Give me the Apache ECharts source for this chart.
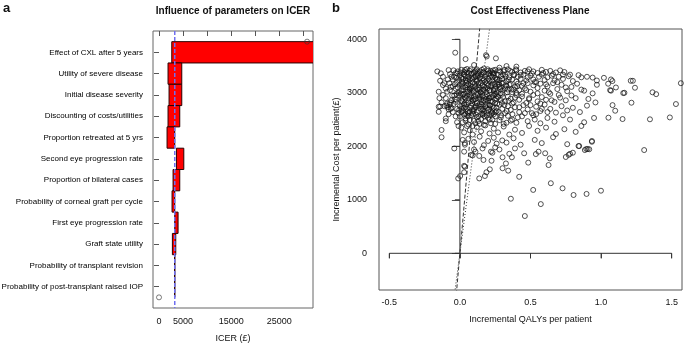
<!DOCTYPE html>
<html><head><meta charset="utf-8">
<script src="https://cdn.jsdelivr.net/npm/echarts@6/dist/echarts.min.js"></script>
<style>html,body{margin:0;padding:0;background:#fff}#c{width:685px;height:351px}</style>
</head><body><div id="c"></div>
<script>
// ---- Panel a: tornado diagram ----
const params = [
  'Effect of CXL after 5 years',
  'Utility of severe disease',
  'Initial disease severity',
  'Discounting of costs/utilities',
  'Proportion retreated at 5 yrs',
  'Second eye progression rate',
  'Proportion of bilateral cases',
  'Probability of corneal graft per cycle',
  'First eye progression rate',
  'Graft state utility',
  'Probability of transplant revision',
  'Probability of post-transplant raised IOP'
];
const lowValues  = [2650, 1875, 2085, 1875, 1670, 3620, 2920, 2710, 3270, 2780, 3240, 3250];
const highValues = [45000, 4730, 4730, 4310, 3270, 5150, 4310, 3270, 3960, 3480, 3300, 3290];
const baseICER = 3270;
const icerTicks = [0, 5000, 10000, 15000, 20000, 25000, 30000];
const icerLabels = [0, 5000, 15000, 25000];
const rangePoints = [[0, 12.5], [30770, 0.5]];

// ---- Panel b: cost-effectiveness plane ----
const qalyTicks = [-0.5, 0, 0.5, 1, 1.5];
const costTicks = [0, 1000, 2000, 3000, 4000];
const wtpThresholds = [20000, 30000];
const psaPoints = [
[-0.16,3400],[-0.135,3365],[-0.08,3425],[-0.14,3225],[-0.12,3145],[-0.11,3180],[-0.075,3180],[-0.15,3020],[-0.145,2900],[-0.12,2960],
[-0.10,2900],[-0.15,2740],[-0.14,2745],[-0.15,2645],[-0.10,2520],[-0.10,2470],[-0.13,2305],[-0.13,2170],[-0.04,1960],[-0.033,3750],
[-0.09,3020],[-0.07,2780],[-0.06,2720],[-0.08,2690],[-0.05,2640],[-0.06,2860],[-0.04,2950],[-0.03,3080],[-0.05,3120],[-0.02,3200],
[-0.04,3300],[-0.02,3360],[-0.06,3300],[-0.09,2800],[-0.11,2750],[-0.03,2560],[-0.02,2450],[-0.01,2380],[-0.03,2830],[-0.01,3000],
[-0.07,3050],[-0.02,2700],[-0.045,3420],[-0.01,2620],[-0.08,2600],[-0.095,2760],[-0.07,2820],[-0.085,2730],[-0.065,2700],
[0.01,3430],[0.03,3390],[0.05,3445],[0.07,3410],[0.10,3380],[0.12,3440],[0.14,3400],[0.17,3455],[0.20,3410],[0.23,3380],
[0.25,3430],[0.28,3470],[0.31,3400],[0.34,3440],[0.37,3390],[0.40,3420],[0.43,3380],[0.46,3410],[0.49,3440],[0.52,3400],
[0.55,3370],[0.58,3430],[0.61,3390],[0.64,3410],[0.68,3380],[0.71,3420],[0.74,3390],[0.78,3340],[0.84,3330],[0.90,3300],
[0.04,3630],[0.185,3705],[0.19,3680],[0.255,3645],[0.40,3490],[0.10,3520],[0.33,3500],
[0.00,3320],[0.02,3260],[0.03,3340],[0.05,3220],[0.06,3300],[0.08,3350],[0.09,3250],[0.11,3310],[0.12,3210],[0.14,3280],
[0.15,3340],[0.17,3240],[0.18,3300],[0.20,3350],[0.21,3220],[0.23,3290],[0.24,3330],[0.26,3250],[0.27,3200],[0.29,3310],
[0.30,3260],[0.32,3340],[0.33,3220],[0.35,3290],[0.37,3250],[0.38,3330],[0.40,3210],[0.41,3300],[0.43,3260],[0.45,3340],
[0.47,3230],[0.48,3290],[0.50,3320],[0.52,3250],[0.54,3200],[0.56,3300],[0.58,3340],[0.60,3240],[0.62,3290],[0.65,3320],
[0.67,3230],[0.70,3300],[0.73,3260],[0.77,3310],[0.80,3220],[0.86,3290],[0.94,3285],[0.97,3230],[1.02,3280],[1.07,3250],
[1.08,3220],[1.21,3225],[1.225,3225],[1.565,3180],
[0.01,3280],[0.04,3310],[0.07,3240],[0.10,3290],[0.13,3330],[0.16,3270],[0.19,3230],[0.22,3320],[0.25,3280],[0.28,3240],
[0.00,3150],[0.01,3050],[0.02,3180],[0.04,3100],[0.05,3020],[0.06,3160],[0.08,3080],[0.09,3190],[0.10,3030],[0.11,3120],
[0.13,3170],[0.14,3060],[0.15,3010],[0.16,3140],[0.18,3090],[0.19,3180],[0.21,3040],[0.22,3120],[0.23,3170],[0.25,3070],
[0.26,3010],[0.27,3150],[0.29,3100],[0.30,3040],[0.31,3190],[0.33,3120],[0.34,3060],[0.36,3160],[0.37,3010],[0.39,3110],
[0.41,3170],[0.42,3050],[0.44,3130],[0.46,3080],[0.48,3180],[0.50,3020],[0.52,3140],[0.55,3090],[0.57,3170],[0.60,3040],
[0.62,3120],[0.66,3180],[0.69,3070],[0.72,3150],[0.76,3030],[0.79,3110],[0.83,3170],[0.86,3060],[0.88,3040],[0.94,2990],
[1.05,3170],[1.064,3050],[1.07,3040],[1.105,3100],[1.157,2995],[1.165,3000],[1.24,3095],[1.364,3010],[1.39,2975],[0.97,3150],
[0.02,3110],[0.05,3140],[0.07,3060],[0.09,3120],[0.12,3070],[0.15,3180],[0.17,3050],[0.20,3140],[0.24,3030],[0.28,3110],
[0.32,3080],[0.35,3150],[0.38,3060],[0.40,3000],
[0.00,2950],[0.01,2850],[0.03,2980],[0.04,2900],[0.06,2820],[0.07,2960],[0.09,2870],[0.10,2930],[0.12,2810],[0.13,2990],
[0.15,2880],[0.16,2940],[0.18,2830],[0.19,2970],[0.21,2900],[0.22,2850],[0.24,2960],[0.25,2810],[0.27,2920],[0.29,2870],
[0.30,2980],[0.32,2840],[0.34,2930],[0.36,2890],[0.38,2820],[0.40,2960],[0.42,2870],[0.44,2930],[0.47,2810],[0.49,2900],
[0.52,2960],[0.55,2840],[0.58,2920],[0.61,2870],[0.64,2980],[0.67,2830],[0.71,2910],[0.75,2860],[0.79,2950],[0.82,2900],
[0.91,2885],[0.96,2820],[1.215,2815],[1.53,2790],
[0.02,2890],[0.05,2940],[0.08,2840],[0.11,2880],[0.14,2920],[0.17,2860],[0.20,2940],[0.23,2830],[0.26,2890],
[0.00,2750],[0.02,2660],[0.03,2780],[0.05,2700],[0.06,2620],[0.08,2760],[0.09,2680],[0.11,2730],[0.12,2640],[0.14,2790],
[0.15,2700],[0.17,2610],[0.18,2750],[0.20,2680],[0.21,2770],[0.23,2630],[0.24,2720],[0.26,2660],[0.28,2780],[0.30,2700],
[0.32,2620],[0.34,2750],[0.36,2680],[0.39,2730],[0.42,2640],[0.45,2770],[0.48,2690],[0.51,2620],[0.54,2740],[0.57,2660],
[0.60,2780],[0.64,2700],[0.68,2630],[0.72,2750],[0.76,2670],[0.80,2720],[0.85,2640],[0.90,2760],[1.081,2770],[1.10,2665],
[0.01,2700],[0.04,2740],[0.07,2650],[0.10,2690],[0.13,2760],[0.16,2670],[0.19,2720],[0.22,2650],
[0.00,2560],[0.02,2450],[0.04,2520],[0.06,2410],[0.08,2580],[0.10,2480],[0.12,2540],[0.14,2420],[0.16,2590],[0.18,2470],
[0.20,2530],[0.22,2430],[0.25,2560],[0.28,2490],[0.31,2420],[0.34,2570],[0.37,2500],[0.40,2440],[0.44,2560],[0.48,2470],
[0.52,2580],[0.57,2430],[0.62,2530],[0.67,2460],[0.73,2580],[0.78,2500],[0.88,2450],[0.95,2530],[1.052,2535],[1.152,2510],
[1.346,2505],[1.487,2540],
[0.03,2590],[0.07,2490],[0.11,2430],[0.15,2510],[0.19,2580],[0.23,2500],
[0.01,2350],[0.03,2260],[0.05,2380],[0.07,2300],[0.09,2220],[0.12,2360],[0.15,2280],[0.18,2390],[0.21,2240],[0.24,2330],
[0.27,2260],[0.31,2370],[0.35,2220],[0.39,2310],[0.44,2250],[0.49,2380],[0.55,2290],[0.61,2350],[0.68,2230],[0.74,2320],
[0.82,2270],[0.86,2380],[0.935,2100],[0.895,1950],[0.905,1950],
[0.02,2120],[0.035,2030],[0.035,2060],[0.06,2140],[0.10,2080],[0.14,2180],[0.17,2020],[0.20,2100],[0.24,2160],[0.26,2050],
[0.30,2110],[0.33,2070],[0.38,2150],[0.43,2030],[0.53,2120],[0.58,2060],[0.66,2170],[0.76,2040],[0.84,2005],[0.935,2085],
[-0.012,1400],[0.002,1445],[0.03,1635],[0.035,1620],[0.03,1515],[0.03,1900],[0.08,1840],[0.09,1830],[0.137,1820],[0.137,1400],
[0.177,1445],[0.188,1515],[0.212,1570],[0.167,1745],[0.224,1730],[0.22,1900],[0.23,1880],[0.302,1590],[0.342,1545],[0.326,1680],
[0.302,1795],[0.368,1795],[0.361,1020],[0.46,697],[0.42,1430],[0.484,1695],[0.455,1870],[0.519,1185],[0.538,1855],[0.557,1900],
[0.573,920],[0.604,1870],[0.628,1650],[0.637,1775],[0.644,1310],[0.727,1215],[0.75,1800],[0.77,1840],[0.78,1860],[0.80,1880],
[0.805,1090],[0.845,2005],[0.885,1930],[0.897,1110],[0.916,1945],[0.999,1170],[1.305,1930],[0.10,1940],[0.11,1900],[0.16,1960],
[0.25,1980],[0.28,1940],[0.35,1860],[0.39,1960],
[0.005,3380],[0.015,3210],[0.025,3050],[0.035,2920],[0.045,2780],[0.055,2650],[0.065,3370],[0.075,3130],[0.085,2990],[0.095,2860],
[0.105,2720],[0.115,2590],[0.125,3360],[0.135,3190],[0.145,3010],[0.155,2830],[0.165,2700],[0.175,2560],[0.185,3350],[0.195,3080],
[0.205,2900],[0.215,2760],[0.225,2610],[0.235,3360],[0.245,3160],[0.255,2980],[0.265,2800],[0.275,2640],[0.285,3390],[0.295,3180],
[0.305,2920],[0.315,2770],[0.325,3300],[0.335,3010],[0.345,2850],[-0.005,3240],[-0.015,3100],[-0.025,2980],[-0.035,2880],[-0.045,2790],
[-0.005,2680],[-0.015,3400],[-0.025,3280],[-0.035,3160],[0.008,2990],[0.018,2840],[0.028,2720],[0.038,2610],[0.048,3380],[0.058,3260],
[0.068,3090],[0.078,2930],[0.088,2800],[0.098,2660],[0.108,3400],[0.118,3230],[0.128,3060],[0.138,2890],[0.148,2740],[0.158,2610],
[0.168,3380],[0.178,3200],[0.188,3020],[0.198,2850],[0.208,2700],[0.218,3410],[0.228,3230],[0.238,3060],[0.248,2870],[0.258,2720],
[0.268,3340],[0.278,3150],[0.288,2990],[0.298,2810],[0.012,3160],[0.022,2960],[0.032,2800],[0.042,3240],[0.052,3060],[0.062,2890],
[0.072,2720],[0.082,3280],[0.092,3040],[0.102,2880],[0.112,2760],[0.122,3310],[0.132,3100],[0.142,2950],[0.152,2780],[0.162,3390],
[0.172,3120],[0.182,2930],[0.192,2780],[0.202,3260],[0.212,3050],[0.222,2920],[0.232,2750],[0.242,3370],[0.252,3120],[0.262,2940],
[0.036,3430],[0.076,3440],[0.116,3420],[0.156,3430],[0.196,3440],[0.236,3420],[0.276,3420],[0.316,3430],[0.356,3410],[0.396,3440],
[0.026,3350],[0.046,3190],[0.066,3020],[0.086,3360],[0.106,3170],[0.126,2960],[0.146,3300],[0.166,3060],[0.186,2880],[0.206,3370],
[0.226,3140],[0.246,2980],[0.266,3250],[0.286,3070],[0.306,3340],[0.326,3140],[0.346,3250],[0.366,3060],[0.386,3340],[0.406,3120],
[0.04,2480],[0.09,2380],[0.13,2470],[0.17,2400],[0.21,2500],[0.25,2420],[0.29,2540],[0.33,2440],[0.06,2560],[0.24,2600],
[0.012,2640],[0.052,2580],[0.092,2610],[0.132,2560],[0.172,2650],[0.212,2590],[0.252,2640],[0.292,2580],[0.332,2660],[0.372,2600],
[0.43,3330],[0.45,3180],[0.47,3050],[0.49,2880],[0.51,3360],[0.53,3200],[0.55,2990],[0.57,2800],[0.59,3370],[0.61,3160],
[0.63,3010],[0.65,2860],[0.42,2730],[0.46,2620],[0.50,2770],[0.54,2600],[0.58,2700],[0.62,2640],[0.66,3350],[0.69,3200],
[0.70,2960],[0.73,3340],[0.75,3100],[0.48,3400],[0.44,2980],[0.39,2910],[0.37,2800],[0.41,2540],[0.36,2480],[0.53,2500],
[-0.03,3370],[-0.05,3250],[-0.07,3350],[-0.025,2870],[-0.055,2950],[-0.065,3110],[-0.085,3250],[-0.10,3080],[-0.12,3300],[-0.13,2820]
];

const FONT = 'Liberation Sans, Arial, sans-serif';
const chart = echarts.init(document.getElementById('c'), null, {renderer: 'canvas'});

const qMin = -0.573, qMax = 1.573, cMin = -686, cMax = 4193;

function tickSeries(values, axis, gridX, gridY) {
  return {
    type: 'custom', xAxisIndex: gridX, yAxisIndex: gridY, silent: true, z: 4,
    data: values.map(v => axis === 'x' ? [v, 0] : [0, v]),
    renderItem: (p, api) => {
      const pt = api.coord([api.value(0), api.value(1)]);
      const shape = axis === 'x'
        ? {x1: pt[0], y1: pt[1], x2: pt[0], y2: pt[1] + 5}
        : {x1: pt[0], y1: pt[1], x2: pt[0] - 5, y2: pt[1]};
      return {type: 'line', shape, style: {stroke: '#333', lineWidth: 1}};
    }
  };
}

const option = {
  animation: false,
  textStyle: {fontFamily: FONT},
  graphic: [
    {type: 'text', left: 3, top: 2, style: {text: 'a', font: 'bold 13px ' + FONT, fill: '#111'}},
    {type: 'text', left: 332, top: 2, style: {text: 'b', font: 'bold 13px ' + FONT, fill: '#111'}},
    {type: 'text', x: 233, y: 11, style: {text: 'Influence of parameters on ICER', font: 'bold 10px ' + FONT, fill: '#111', align: 'center', verticalAlign: 'middle'}},
    {type: 'text', x: 530, y: 11, style: {text: 'Cost Effectiveness Plane', font: 'bold 10px ' + FONT, fill: '#111', align: 'center', verticalAlign: 'middle'}}
  ],
  grid: [
    {left: 153, top: 31, width: 160, height: 277, show: true, borderColor: '#666', borderWidth: 1,
      backgroundColor: 'transparent', containLabel: false, outerBoundsMode: 'none'},
    {left: 379, top: 29, width: 303, height: 261, show: true, borderColor: '#555', borderWidth: 1,
      backgroundColor: 'transparent', containLabel: false, outerBoundsMode: 'none'}
  ],
  xAxis: [
    {
      type: 'value', gridIndex: 0, min: -1250, max: 32000,
      axisLine: {show: false}, splitLine: {show: false},
      axisTick: {show: true, customValues: icerTicks, length: 5, lineStyle: {color: '#555'}},
      axisLabel: {customValues: icerLabels, fontSize: 9, color: '#111', margin: 9, formatter: v => String(v)},
      name: 'ICER (£)', nameLocation: 'middle', nameGap: 26,
      nameTextStyle: {fontSize: 9, color: '#111'}
    },
    {
      type: 'value', gridIndex: 1, min: qMin, max: qMax,
      axisLine: {show: false}, splitLine: {show: false},
      axisTick: {show: true, customValues: qalyTicks, length: 5, lineStyle: {color: '#555'}},
      axisLabel: {customValues: qalyTicks, fontSize: 9, color: '#111', margin: 8, formatter: v => v.toFixed(1)},
      name: 'Incremental QALYs per patient', nameLocation: 'middle', nameGap: 25,
      nameTextStyle: {fontSize: 9, color: '#111'}
    }
  ],
  yAxis: [
    {
      type: 'value', gridIndex: 0, inverse: true, min: 0, max: 13,
      axisLine: {show: false}, splitLine: {show: false},
      axisTick: {show: true, customValues: params.map((p, i) => i + 1), length: 5, lineStyle: {color: '#555'}},
      axisLabel: {customValues: params.map((p, i) => i + 1), fontSize: 8, color: '#000', margin: 10,
        formatter: v => params[Math.round(v) - 1] || ''}
    },
    {
      type: 'value', gridIndex: 1, min: cMin, max: cMax,
      axisLine: {show: false}, splitLine: {show: false},
      axisTick: {show: true, customValues: costTicks, length: 8, lineStyle: {color: '#555'}},
      axisLabel: {customValues: costTicks, fontSize: 9, color: '#111', margin: 12, formatter: v => String(v)},
      name: 'Incremental Cost per patient(£)', nameLocation: 'middle', nameGap: 38, nameRotate: 90,
      nameTextStyle: {fontSize: 9, color: '#111'}
    }
  ],
  series: [
    {
      type: 'custom', xAxisIndex: 0, yAxisIndex: 0, clip: true, z: 2,
      data: params.map((p, i) => [lowValues[i], highValues[i], i + 1]),
      encode: {x: [0, 1], y: 2},
      renderItem: (p, api) => {
        const a = api.coord([api.value(0), api.value(2) - 0.5]);
        const b = api.coord([api.value(1), api.value(2) + 0.5]);
        return {type: 'rect', shape: {x: a[0], y: a[1], width: b[0] - a[0], height: b[1] - a[1]},
          style: {fill: '#ff0000', stroke: '#2a0000', lineWidth: 1}};
      }
    },
    {
      type: 'line', xAxisIndex: 0, yAxisIndex: 0, symbol: 'none', z: 5, silent: true,
      data: [[baseICER, 0], [baseICER, 13]],
      lineStyle: {color: '#6f6ff0', width: 1.5, type: [4, 2]}
    },
    {
      type: 'scatter', xAxisIndex: 0, yAxisIndex: 0, symbol: 'circle', symbolSize: 5, z: 6,
      data: rangePoints,
      itemStyle: {color: 'rgba(0,0,0,0)', borderColor: '#333', borderWidth: 0.8}
    },
    {
      type: 'scatter', xAxisIndex: 1, yAxisIndex: 1, symbol: 'circle', symbolSize: 5, z: 3,
      data: psaPoints,
      itemStyle: {color: 'rgba(0,0,0,0)', borderColor: '#111', borderWidth: 0.9}
    },
    ...wtpThresholds.map((w, i) => ({
      type: 'line', xAxisIndex: 1, yAxisIndex: 1, symbol: 'none', z: 4, silent: true,
      data: [[qMin, qMin * w], [qMax, qMax * w]],
      lineStyle: {color: '#333', width: 1, type: i === 0 ? [1, 2] : [4, 2]}
    })),
    {
      type: 'line', xAxisIndex: 1, yAxisIndex: 1, symbol: 'none', z: 4, silent: true,
      data: [[qalyTicks[0], 0], [qalyTicks[qalyTicks.length - 1], 0]],
      lineStyle: {color: '#333', width: 1}
    },
    {
      type: 'line', xAxisIndex: 1, yAxisIndex: 1, symbol: 'none', z: 4, silent: true,
      data: [[0, costTicks[0]], [0, costTicks[costTicks.length - 1]]],
      lineStyle: {color: '#333', width: 1}
    },
    tickSeries(qalyTicks, 'x', 1, 1),
    tickSeries(costTicks, 'y', 1, 1)
  ]
};
chart.setOption(option);
</script>
</body></html>
